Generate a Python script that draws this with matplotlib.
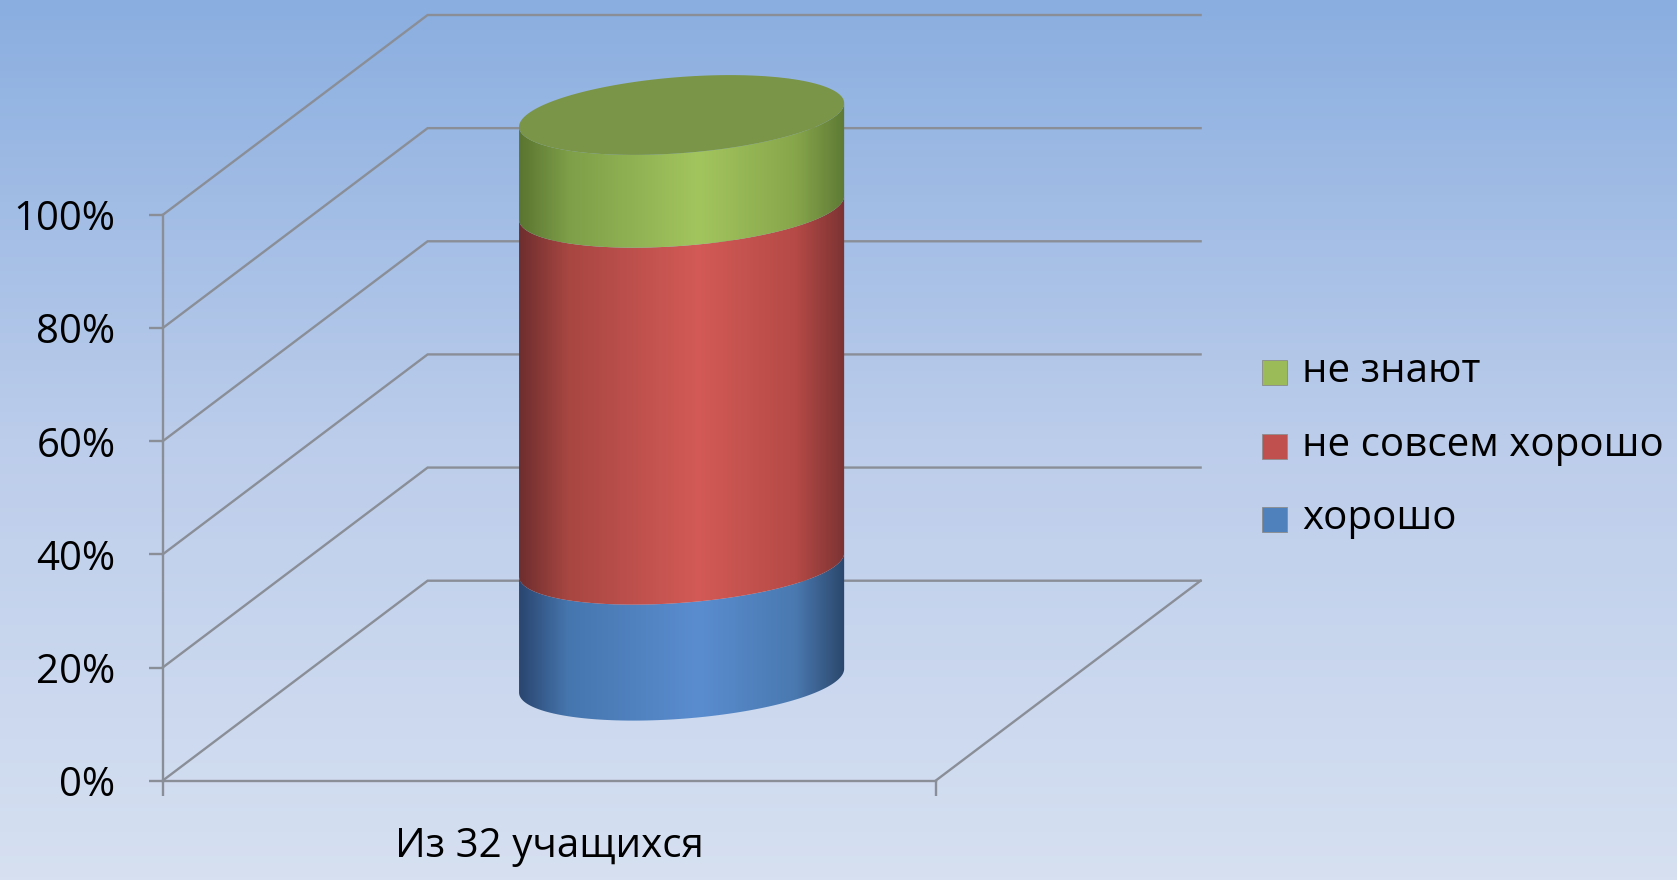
import numpy as np
import matplotlib.pyplot as plt
from matplotlib.patches import Polygon, Rectangle
from matplotlib.colors import LinearSegmentedColormap

W, H = 1677, 880

category = 'Из 32 учащихся'
series = ['хорошо', 'не совсем хорошо', 'не знают']
shares = [20.5, 63.1, 16.4]          # percent of pupils
y_ticks = [0, 20, 40, 60, 80, 100]
y_labels = ['0%', '20%', '40%', '60%', '80%', '100%']

flat_colors = ['#4F81BD', '#C0504D', '#9BBB59']
side_shades = [
    ['#2a4670', '#4676ae', '#5a8dd0', '#4a79b0', '#2b476c'],
    ['#6e2e2e', '#a84642', '#d35a56', '#b54a46', '#7c3333'],
    ['#5a7530', '#7e9e48', '#a3c55e', '#87a64b', '#5e7a35'],
]
top_color = '#7a9547'
grid_color = '#8a8e97'

plt.rcParams['font.family'] = ['Open Sans', 'DejaVu Sans']
FS = 29

fig = plt.figure(figsize=(W / 100, H / 100), dpi=100)

# sky-blue backdrop
bg = fig.add_axes([0, 0, 1, 1], zorder=0)
bg_cmap = LinearSegmentedColormap.from_list('bg', ['#8aaee0', '#bccdeb', '#d6e0f1'])
bg.imshow(np.linspace(0, 1, 256)[:, None], cmap=bg_cmap, aspect='auto',
          extent=[0, 1, 0, 1], origin='upper')
bg.set_axis_off()

# front plane of the chart: x = category slot, y = percent
ax = fig.add_axes([162.6 / W, 99.3 / H, 773 / W, 565.7 / H], zorder=1)
ax.patch.set_alpha(0)
ax.set_xlim(-0.5, 0.5)
ax.set_ylim(0, 100)
for side in ['top', 'right']:
    ax.spines[side].set_visible(False)
for side in ['left', 'bottom']:
    ax.spines[side].set_color(grid_color)
    ax.spines[side].set_linewidth(1.7)
ax.set_yticks(y_ticks, y_labels)
ax.tick_params(axis='y', length=10, width=1.7, color=grid_color, pad=24,
               labelsize=FS, labelcolor='black')
ax.set_xticks([-0.5, 0.5], ['', ''])
ax.set_xticks([0], [category], minor=True)
ax.tick_params(axis='x', which='major', length=11, width=1.7, color=grid_color)
ax.tick_params(axis='x', which='minor', length=0, pad=33, labelsize=FS,
               labelcolor='black')

# overlay in pixel units for the 3D parts
px = fig.add_axes([0, 0, 1, 1], zorder=2)
px.set_xlim(0, W)
px.set_ylim(0, H)
px.set_autoscale_on(False)
px.set_axis_off()

DEPTH_X, DEPTH_Y = 265, 200


def project(x, y, depth):
    """Front-plane data point pushed back by a fraction of the chart depth."""
    dx, dy = ax.transData.transform((x, y))
    return dx + DEPTH_X * depth, dy + DEPTH_Y * depth


# back wall gridlines and side wall diagonals
for t in y_ticks:
    front = project(-0.5, t, 0)
    back_l = project(-0.5, t, 1)
    back_r = project(0.5, t, 1)
    px.plot([front[0], back_l[0], back_r[0]], [front[1], back_l[1], back_r[1]],
            color=grid_color, lw=1.7, zorder=1, solid_joinstyle='miter')
fr = project(0.5, 0, 0)
br = project(0.5, 0, 1)
px.plot([fr[0], br[0]], [fr[1], br[1]], color=grid_color, lw=1.7, zorder=1)

# cylinder
RA, RB, THETA = 163, 38, np.radians(4.4)
t0 = np.arctan2(-RB * np.sin(THETA), RA * np.cos(THETA))


def ellipse_pts(level, t):
    cx, cy = project(0, level, 0.5)
    ex, ey = RA * np.cos(t), RB * np.sin(t)
    return (cx + ex * np.cos(THETA) - ey * np.sin(THETA),
            cy + ex * np.sin(THETA) + ey * np.cos(THETA))


front_arc = np.linspace(t0 + np.pi, t0 + 2 * np.pi, 200)
levels = np.concatenate([[0], np.cumsum(shares)])
levels = levels / levels[-1] * 100

for i in range(len(series)):
    lx, ly = ellipse_pts(levels[i], front_arc)
    ux, uy = ellipse_pts(levels[i + 1], front_arc[::-1])
    verts = np.column_stack([np.concatenate([lx, ux]), np.concatenate([ly, uy])])
    shape = Polygon(verts, closed=True, facecolor='none', edgecolor='none')
    px.add_patch(shape)
    cmap = LinearSegmentedColormap.from_list(
        series[i], list(zip([0, 0.15, 0.55, 0.85, 1], side_shades[i])))
    img = px.imshow(np.linspace(0, 1, 256)[None, :], cmap=cmap, aspect='auto',
                    extent=[verts[:, 0].min(), verts[:, 0].max(),
                            verts[:, 1].min(), verts[:, 1].max()],
                    origin='lower', zorder=3 + i, interpolation='bilinear')
    img.set_clip_path(shape)

tx, ty = ellipse_pts(levels[-1], np.linspace(0, 2 * np.pi, 361))
px.add_patch(Polygon(np.column_stack([tx, ty]), closed=True,
                     facecolor=top_color, edgecolor='none', zorder=10))

# legend, top entry is the top of the stack
legend_rows = [372, 446, 519]
for row, i in zip(legend_rows, reversed(range(len(series)))):
    y = H - row
    px.add_patch(Rectangle((1262, y - 12.5), 25, 25, facecolor=flat_colors[i],
                           edgecolor='#8c8c8c', lw=0.6, zorder=5))
    px.text(1302, y, series[i], fontsize=FS, va='center', ha='left', color='black')

fig.savefig('out.png', dpi=100)
